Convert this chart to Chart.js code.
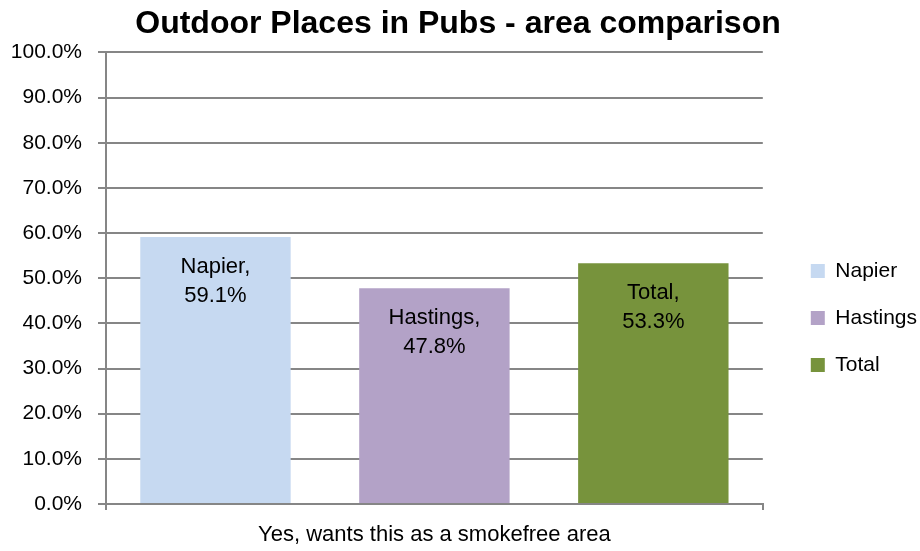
<!DOCTYPE html>
<html>
<head>
<meta charset="utf-8">
<script src="https://cdn.jsdelivr.net/npm/chart.js@4"></script>
<style>
  body { margin: 0; background: #fff; }
</style>
</head>
<body>
<canvas id="myChart" width="920" height="551"></canvas>
<script>
const categories = ["Yes, wants this as a smokefree area"];
const seriesNames = ["Napier", "Hastings", "Total"];
const napier = [59.1];
const hastings = [47.8];
const total = [53.3];
const yTicks = [0, 10, 20, 30, 40, 50, 60, 70, 80, 90, 100];

const colors = ["#C6D9F1", "#B3A2C7", "#77933C"];
const font = "'Liberation Sans', Arial, sans-serif";

// labels inside the top of each bar: "Name," / "59.1%"
const barLabels = {
  id: "barLabels",
  afterDatasetsDraw(chart) {
    const ctx = chart.ctx;
    ctx.save();
    ctx.font = "22px " + font;
    ctx.fillStyle = "#000";
    ctx.textAlign = "center";
    ctx.textBaseline = "middle";
    chart.data.datasets.forEach((ds, i) => {
      chart.getDatasetMeta(i).data.forEach((bar, j) => {
        ctx.fillText(ds.label + ",", bar.x, bar.y + 30);
        ctx.fillText(ds.data[j].toFixed(1) + "%", bar.x, bar.y + 59);
      });
    });
    ctx.restore();
  }
};

// nudge the legend block away from the plot, like the original
const legendShift = {
  id: "legendShift",
  afterLayout(chart) {
    const lg = chart.legend;
    lg.left += 22; lg.right += 22;
    lg.top += 44; lg.bottom += 44;
  }
};

const data = {
  labels: categories,
  datasets: [
    { label: seriesNames[0], data: napier, backgroundColor: colors[0] },
    { label: seriesNames[1], data: hastings, backgroundColor: colors[1] },
    { label: seriesNames[2], data: total, backgroundColor: colors[2] },
  ],
};

const config = {
  type: "bar",
  data: data,
  options: {
    responsive: false,
    animation: false,
    layout: { padding: { left: 11, right: 15, top: 0, bottom: 3 } },
    datasets: { bar: { categoryPercentage: 1.0, barPercentage: 0.687 } },
    plugins: {
      title: {
        display: true,
        text: "Outdoor Places in Pubs - area comparison",
        color: "#000",
        font: { family: font, size: 32, weight: "bold" },
        padding: { top: 5, bottom: 9 },
      },
      legend: {
        position: "right",
        labels: {
          color: "#000",
          font: { family: font, size: 21 },
          boxWidth: 14,
          boxHeight: 14,
          padding: 26,
        },
      },
      tooltip: { enabled: false },
    },
    scales: {
      x: {
        afterFit(axis) { axis.height = 44; },
        grid: { display: true, drawOnChartArea: false, color: "#868686", lineWidth: 2, tickLength: 6 },
        border: { color: "#868686", width: 2 },
        ticks: { color: "#000", font: { family: font, size: 22 }, padding: 12 },
      },
      y: {
        min: 0,
        max: 100,
        afterBuildTicks(axis) { axis.ticks = yTicks.map(v => ({ value: v })); },
        afterFit(axis) { axis.width = 95; },
        grid: { color: "#868686", lineWidth: 2, tickLength: 8 },
        border: { color: "#868686", width: 2 },
        ticks: {
          color: "#000",
          font: { family: font, size: 21 },
          padding: 16,
          callback: v => v.toFixed(1) + "%",
        },
      },
    },
  },
  plugins: [barLabels, legendShift],
};

var myChart = new Chart(document.getElementById("myChart"), config);
</script>
</body>
</html>
